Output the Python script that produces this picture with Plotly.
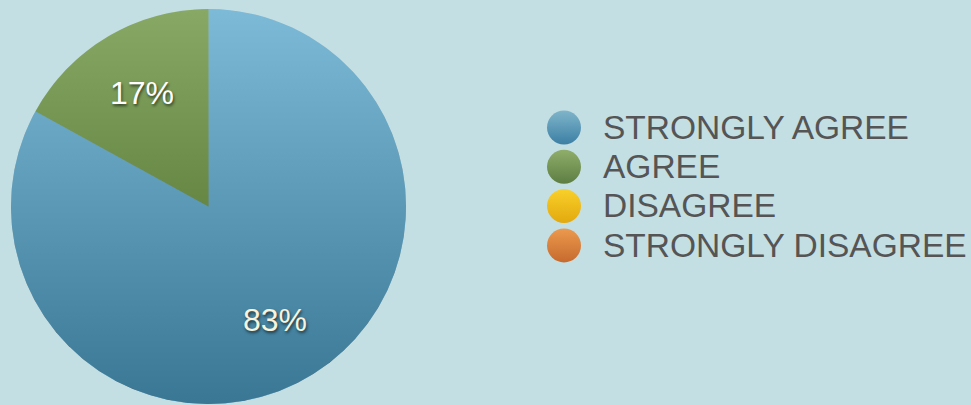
import numpy as np
import plotly.graph_objects as go

# Survey responses
labels = ["STRONGLY AGREE", "AGREE", "DISAGREE", "STRONGLY DISAGREE"]
values = [83, 17, 0, 0]

# Slice base colours (drawn semi-transparent over a shaded disc)
slice_colors = ["rgba(54,178,236,0.5)", "rgba(78,144,10,0.5)",
                "rgba(250,200,20,0.5)", "rgba(235,130,60,0.5)"]
label_colors = ["#f7f3dc", "#ffffff", "#ffffff", "#ffffff"]

# Legend swatch gradients (top -> bottom)
swatch_top = ["#80b5ca", "#8fae6b", "#f9d02a", "#ec9a4e"]
swatch_bottom = ["#3b7fa4", "#5d7e42", "#e2a90e", "#c66a2e"]

W, H = 971, 405
BG = "#c4dfe3"
FONT = "Liberation Sans, Arial, Helvetica, sans-serif"

# pie box in pixels
cx, cy, r = 208.5, 206.5, 197.5
dom_x = [(cx - r) / W, (cx + r) / W]
dom_y = [(H - cy - r) / H, (H - cy + r) / H]

fig = go.Figure()

# shaded disc underneath the pie gives the vertical light-to-dark sheen
t = np.linspace(0, 2 * np.pi, 721)
fig.add_trace(go.Scatter(
    x=np.cos(t), y=np.sin(t), mode="lines", fill="toself",
    line=dict(width=0, color="rgba(0,0,0,0)"),
    fillgradient=dict(type="vertical", start=-1, stop=1,
                      colorscale=[[0, "rgb(60,60,60)"], [1, "rgb(195,195,195)"]]),
    hoverinfo="skip", showlegend=False, xaxis="x", yaxis="y",
))

fig.add_trace(go.Pie(
    labels=labels, values=values, sort=False, direction="clockwise", rotation=0,
    marker=dict(colors=slice_colors, line=dict(width=0)),
    textinfo="none", domain=dict(x=dom_x, y=dom_y), showlegend=False,
    hoverinfo="label+percent",
))

# percentage labels placed along each slice's mid-angle
total = sum(values)
cum = 0.0
for v, col in zip(values, label_colors):
    if v > 0:
        theta = 2 * np.pi * (cum + v / 2) / total
        rho = 0.665
        fig.add_annotation(
            x=rho * np.sin(theta), y=rho * np.cos(theta), xref="x", yref="y",
            text=f"{round(100 * v / total)}%", showarrow=False,
            xanchor="center", yanchor="middle",
            font=dict(family=FONT, size=32, color=col,
                      shadow="1px 2px 3px rgba(0,0,0,0.6)"),
        )
    cum += v

# custom legend: gradient circles with labels
leg_x, leg_y0, leg_dy, txt_x = 564, 127.5, 39.3, 603
leg_y = [leg_y0 + i * leg_dy for i in range(len(labels))]
fig.add_trace(go.Scatter(
    x=[leg_x] * len(labels), y=leg_y, mode="markers",
    marker=dict(size=34, color=swatch_top, line=dict(width=0),
                gradient=dict(type="vertical", color=swatch_bottom)),
    hoverinfo="skip", showlegend=False, xaxis="x2", yaxis="y2",
))
fig.add_trace(go.Scatter(
    x=[txt_x] * len(labels), y=[y + 3 for y in leg_y], mode="text", text=labels,
    textposition="middle right",
    textfont=dict(family=FONT, size=33.5, color="#555555"),
    hoverinfo="skip", showlegend=False, xaxis="x2", yaxis="y2",
))

hidden = dict(visible=False, showgrid=False, zeroline=False, fixedrange=True)
fig.update_layout(
    width=W, height=H, margin=dict(l=0, r=0, t=0, b=0),
    paper_bgcolor=BG, plot_bgcolor="rgba(0,0,0,0)",
    xaxis=dict(domain=dom_x, range=[-1, 1], **hidden),
    yaxis=dict(domain=dom_y, range=[-1, 1], **hidden),
    xaxis2=dict(domain=[0, 1], range=[0, W], anchor="y2", **hidden),
    yaxis2=dict(domain=[0, 1], range=[H, 0], anchor="x2", **hidden),
    showlegend=False,
)

fig.write_html("out.html", config={"displayModeBar": False})
